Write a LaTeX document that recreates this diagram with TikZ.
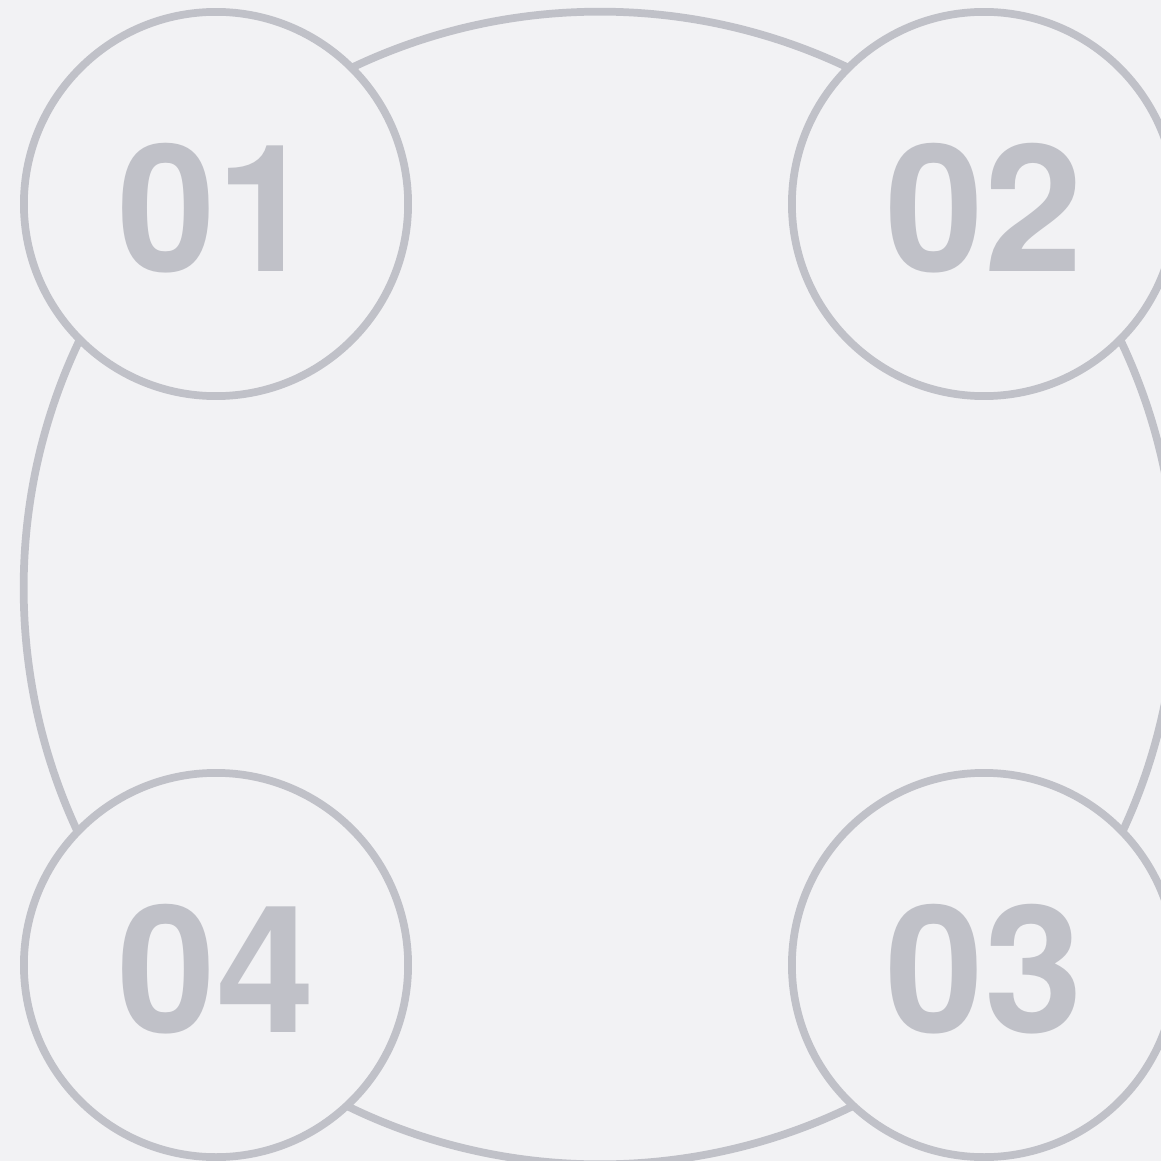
\documentclass[tikz,border=0pt]{standalone}
\usepackage{fontspec}
\setsansfont{TeX Gyre Heros}
\definecolor{pagebg}{HTML}{F2F2F4}
\definecolor{ringgray}{HTML}{C0C1C8}
\begin{document}
\begin{tikzpicture}[
        x=0.01cm, y=-0.01cm,
        every node/.style={font=\sffamily\bfseries\fontsize{50.4}{50.4}\selectfont},
        bigring/.style={circle, draw=ringgray, line width=2.2pt, minimum size=11.52cm, inner sep=0pt},
        stepring/.style={circle, draw=ringgray, line width=2.2pt, fill=pagebg, text=ringgray, minimum size=3.84cm, inner sep=0pt, text height=1.35cm, text depth=0cm}
        ]
        
        \fill[pagebg] (0,0) rectangle (1161,1161);
        \useasboundingbox (0,0) rectangle (1161,1161);
        
        \node[bigring] (ring) at (600, 588) {};
        
        \node[stepring] (one) at (216, 204) {01};
        \node[stepring] (two) at (984, 204) {02};
        \node[stepring] (three) at (984, 965) {03};
        \node[stepring] (four) at (216, 965) {04};
        
    \end{tikzpicture}
\end{document}
